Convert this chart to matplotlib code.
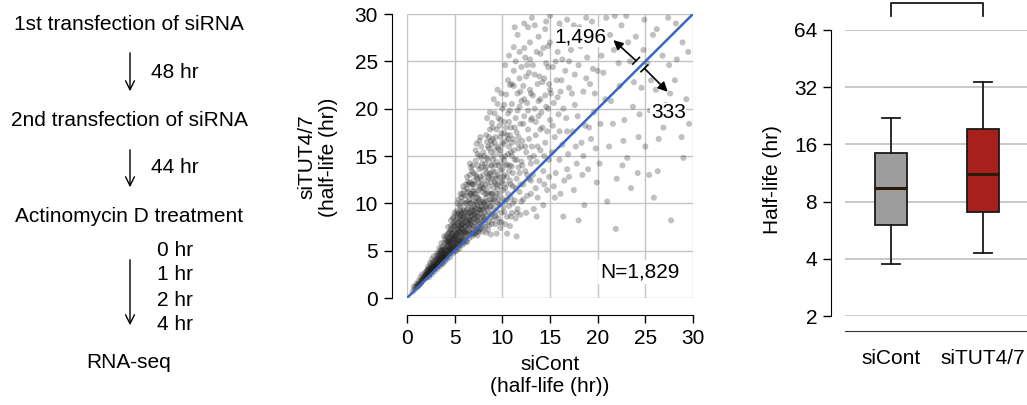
import matplotlib
matplotlib.use("Agg")
import matplotlib.pyplot as plt
import numpy as np

plt.rcParams['font.family'] = ['Liberation Sans', 'DejaVu Sans']

W, H = 1027, 405

# ---------------- data ----------------
# scatter: (siCont half-life, siTUT4/7 half-life)
half_life_pairs = [
 (0.6,0.7),(0.8,0.9),(0.9,1.2),(1.0,1.1),(1.1,1.4),(1.2,1.3),(1.3,1.6),(1.4,1.5),(1.5,1.9),(1.5,1.7),
 (1.6,1.8),(1.7,2.1),(1.7,1.9),(1.8,2.3),(1.8,2.0),(1.9,2.2),(1.9,2.6),(2.0,2.1),(2.0,2.4),(2.0,2.8),
 (1.2,1.8),(1.0,1.5),(0.7,1.2),(1.6,2.5),(1.4,2.2),
 (2.1,2.3),(2.1,2.7),(2.2,2.5),(2.2,3.0),(2.3,2.4),(2.3,2.8),(2.4,2.6),(2.4,3.2),(2.5,2.7),(2.5,3.0),
 (2.5,3.5),(2.6,2.8),(2.6,3.1),(2.7,2.9),(2.7,3.4),(2.7,3.8),(2.8,3.0),(2.8,3.3),(2.9,3.1),(2.9,3.6),
 (3.0,3.2),(3.0,3.5),(3.0,4.0),(2.2,3.3),(2.4,3.7),(2.6,4.1),(2.8,4.4),(2.3,2.2),(2.6,2.5),(2.9,2.8),
 (3.1,3.3),(3.1,3.8),(3.2,3.5),(3.2,4.2),(3.3,3.4),(3.3,3.9),(3.3,4.6),(3.4,3.6),(3.4,4.1),(3.5,3.7),
 (3.5,4.4),(3.5,5.0),(3.6,3.9),(3.6,4.3),(3.6,4.8),(3.7,4.0),(3.7,4.6),(3.7,5.4),(3.8,4.1),(3.8,4.5),
 (3.8,5.1),(3.9,4.2),(3.9,4.8),(3.9,5.8),(4.0,4.3),(4.0,4.7),(4.0,5.3),(4.0,6.2),(3.2,3.1),(3.5,3.4),
 (3.8,3.7),(3.4,5.3),(3.6,5.8),(3.9,6.5),(3.1,4.5),(3.7,3.6),(4.0,3.9),
 (4.1,4.4),(4.1,5.0),(4.1,5.9),(4.2,4.5),(4.2,5.2),(4.2,6.0),(4.3,4.6),(4.3,5.4),(4.3,6.8),(4.4,4.7),
 (4.4,5.6),(4.4,6.3),(4.5,4.8),(4.5,5.3),(4.5,5.9),(4.5,7.0),(4.6,4.9),(4.6,5.6),(4.6,6.5),(4.7,5.0),
 (4.7,5.8),(4.7,7.3),(4.8,5.1),(4.8,5.5),(4.8,6.2),(4.8,6.9),(4.9,5.2),(4.9,6.0),(4.9,7.6),(5.0,5.3),
 (5.0,5.8),(5.0,6.6),(5.0,8.0),(4.2,4.1),(4.5,4.3),(4.8,4.7),(5.0,4.9),(4.3,7.5),(4.6,8.2),(4.9,8.6),
 (4.4,5.0),(4.7,6.3),(4.1,6.6),
 (5.1,5.4),(5.1,6.1),(5.1,7.0),(5.2,5.5),(5.2,6.4),(5.2,7.8),(5.3,5.7),(5.3,6.7),(5.3,8.5),(5.4,5.9),
 (5.4,6.3),(5.4,7.2),(5.4,9.0),(5.5,5.6),(5.5,6.6),(5.5,7.6),(5.5,8.3),(5.6,6.0),(5.6,7.0),(5.6,8.0),
 (5.6,9.6),(5.7,5.9),(5.7,6.8),(5.7,7.7),(5.7,8.9),(5.8,6.2),(5.8,7.3),(5.8,8.4),(5.8,10.2),(5.9,6.5),
 (5.9,7.9),(5.9,9.3),(6.0,6.3),(6.0,7.1),(6.0,8.6),(6.0,10.8),(5.2,5.0),(5.5,5.2),(5.8,5.6),(6.0,5.8),
 (5.3,10.0),(5.6,11.0),(5.9,11.8),(5.4,6.9),(5.7,7.4),(6.0,9.2),
 (6.1,6.6),(6.1,7.5),(6.1,9.0),(6.2,6.9),(6.2,8.1),(6.2,10.0),(6.3,7.2),(6.3,8.7),(6.3,11.5),(6.4,6.7),
 (6.4,7.8),(6.4,9.5),(6.4,12.3),(6.5,7.0),(6.5,8.3),(6.5,10.4),(6.6,7.4),(6.6,9.0),(6.6,11.0),(6.6,13.0),
 (6.7,7.7),(6.7,8.6),(6.7,10.0),(6.8,6.8),(6.8,8.0),(6.8,9.4),(6.8,12.0),(6.9,7.3),(6.9,8.8),(6.9,10.7),
 (6.9,14.0),(7.0,7.6),(7.0,9.2),(7.0,11.3),(7.0,13.2),(6.2,6.0),(6.5,6.3),(6.8,6.5),(7.0,6.7),(6.3,5.9),
 (6.7,13.8),(6.5,12.0),
 (7.1,7.9),(7.1,9.6),(7.1,12.0),(7.2,7.2),(7.2,8.4),(7.2,10.2),(7.2,14.5),(7.3,7.6),(7.3,9.0),(7.3,11.0),
 (7.3,12.8),(7.4,8.2),(7.4,9.8),(7.4,15.2),(7.5,7.4),(7.5,8.7),(7.5,10.5),(7.5,12.2),(7.6,8.0),(7.6,9.3),
 (7.6,11.6),(7.6,13.6),(7.7,7.8),(7.7,8.9),(7.7,10.0),(7.8,8.5),(7.8,9.7),(7.8,12.5),(7.8,16.0),(7.9,8.1),
 (7.9,11.2),(7.9,14.2),(8.0,8.6),(8.0,10.1),(8.0,13.0),(7.2,6.8),(7.5,7.0),(7.8,7.3),(8.0,7.6),(7.4,6.6),
 (7.7,17.0),(7.3,16.3),
 (8.1,9.0),(8.1,11.5),(8.1,15.0),(8.2,8.2),(8.2,9.6),(8.2,12.0),(8.3,8.8),(8.3,10.6),(8.3,13.8),(8.4,9.4),
 (8.4,11.0),(8.4,16.5),(8.5,8.0),(8.5,10.0),(8.5,12.7),(8.5,14.6),(8.6,9.0),(8.6,11.8),(8.7,8.5),(8.7,10.4),
 (8.7,13.2),(8.7,17.8),(8.8,9.7),(8.8,12.2),(8.8,15.4),(8.9,8.9),(8.9,11.0),(8.9,14.0),(9.0,10.1),(9.0,12.6),
 (9.0,16.8),(8.2,7.5),(8.6,7.7),(9.0,8.2),(8.4,19.0),(8.9,18.5),(8.3,6.9),(8.8,6.7),
 (9.1,9.5),(9.1,11.6),(9.1,15.0),(9.2,8.7),(9.2,13.3),(9.2,19.5),(9.3,10.6),(9.3,12.0),(9.3,17.0),(9.4,9.2),
 (9.4,14.4),(9.5,10.0),(9.5,11.5),(9.5,16.0),(9.5,20.5),(9.6,8.4),(9.6,12.8),(9.6,14.0),(9.7,9.9),(9.7,11.0),
 (9.7,18.2),(9.8,13.5),(9.8,15.6),(9.9,9.0),(9.9,12.2),(9.9,17.4),(10.0,10.5),(10.0,14.8),(10.0,20.0),(9.3,7.8),
 (9.8,7.4),(9.4,6.8),(9.9,8.0),
 (10.1,11.4),(10.1,16.2),(10.2,9.1),(10.2,13.0),(10.2,18.6),(10.3,10.2),(10.3,15.0),(10.4,12.0),(10.4,21.5),(10.5,8.6),
 (10.5,14.1),(10.5,17.2),(10.6,11.0),(10.6,19.5),(10.7,9.7),(10.7,13.4),(10.7,16.0),(10.8,12.4),(10.8,22.5),(10.9,10.6),
 (10.9,15.4),(10.9,18.0),(11.0,9.0),(11.0,13.9),(11.0,20.5),(10.3,7.8),(10.8,7.6),(10.5,6.8),
 (11.1,11.8),(11.1,16.8),(11.2,24.0),(11.3,10.3),(11.3,14.6),(11.4,19.0),(11.5,12.6),(11.5,17.5),(11.6,9.4),(11.6,21.6),
 (11.7,13.8),(11.7,15.8),(11.8,11.2),(11.8,23.2),(11.9,18.4),(12.0,14.4),(12.0,10.2),(11.4,8.4),(11.9,8.8),(11.2,26.5),
 (11.6,27.8),(12.0,20.8),(11.5,6.5),
 (12.1,16.6),(12.2,12.0),(12.2,22.4),(12.3,19.2),(12.4,13.4),(12.4,25.4),(12.5,15.4),(12.6,10.8),(12.6,20.6),(12.7,17.8),
 (12.8,12.6),(12.8,23.8),(12.9,14.8),(13.0,18.8),(13.0,11.0),(12.5,9.0),(12.9,27.0),(12.3,29.0),(12.7,28.6),(13.0,21.6),
 (13.1,16.0),(13.2,13.0),(13.2,24.6),(13.4,20.0),(13.5,11.6),(13.5,17.2),(13.6,14.4),(13.7,22.6),(13.8,19.2),(13.9,12.4),
 (14.0,15.6),(14.0,25.8),(13.3,9.4),(13.8,27.6),(14.0,21.0),(13.6,8.6),
 (14.2,18.0),(14.3,13.4),(14.4,23.2),(14.5,16.4),(14.6,20.2),(14.7,11.4),(14.8,24.4),(14.9,14.6),(15.0,18.8),(15.0,22.0),
 (14.5,28.4),(14.3,9.8),(14.8,26.6),(14.9,12.8),
 (15.2,15.4),(15.3,24.4),(15.4,20.6),(15.5,17.0),(15.6,13.2),(15.7,23.0),(15.8,26.0),(15.9,19.4),(16.0,14.6),(16.1,21.8),
 (16.2,28.4),(16.3,16.2),(16.5,12.4),(16.6,24.0),(16.7,19.0),(16.8,29.4),(16.9,15.2),(17.0,22.2),(15.5,10.6),(16.4,8.6),
 (17.0,12.8),(15.9,27.2),(16.3,25.2),
 (17.2,26.2),(17.4,17.6),(17.6,20.4),(17.8,14.2),(18.0,24.6),(18.1,28.6),(18.3,16.4),(18.5,21.8),(18.7,18.2),(18.9,25.4),
 (19.0,13.6),(19.2,22.6),(19.4,29.2),(19.6,19.6),(19.8,15.8),(20.0,27.0),(17.5,11.4),(18.6,9.8),(19.9,12.2),(18.0,8.2),
 (19.5,24.2),
 (20.3,18.4),(20.6,23.8),(20.9,29.6),(21.2,16.0),(21.4,20.8),(21.7,26.2),(22.0,12.6),(22.3,22.4),(22.5,28.8),(22.8,18.8),
 (23.1,14.8),(23.4,25.0),(23.7,20.2),(24.0,27.6),(24.3,17.0),(24.6,22.2),(24.9,29.4),(21.0,10.2),(21.9,7.3),(23.5,11.6),
 (21.8,29.8),(24.2,13.2),
 (25.2,24.8),(25.5,19.8),(25.8,27.8),(26.1,22.0),(26.4,16.8),(26.8,25.6),(27.1,20.4),(27.4,29.6),(27.7,8.2),(28.1,23.0),
 (28.5,19.6),(28.9,27.0),(29.3,21.0),(29.6,18.4),(25.4,13.0),(26.3,13.4),(27.6,21.6),(28.2,29.0),(25.9,10.6),(29.0,14.8),
]
# further points read from the denser parts of the cloud
half_life_pairs_extra = [
 (1.1,1.2),(1.3,1.4),(1.5,1.6),(1.6,2.0),(1.8,2.1),(2.0,2.3),(2.1,2.5),(2.2,2.6),(2.3,2.6),(2.4,2.9),
 (2.5,2.9),(2.6,3.0),(2.7,3.1),(2.8,3.2),(2.9,3.4),(3.0,3.4),(3.1,3.6),(3.2,3.7),(3.3,3.7),(3.4,3.9),
 (3.5,4.0),(3.6,4.1),(3.7,4.3),(3.8,4.3),(3.9,4.5),(4.0,4.5),(2.5,3.2),(2.7,3.6),(2.9,3.9),(3.1,4.1),
 (3.3,4.3),(3.5,4.7),(3.7,5.0),(3.9,5.2),(1.9,2.4),(2.1,2.9),(2.3,3.1),(3.2,4.8),(3.4,4.6),(3.6,5.1),
 (4.1,4.8),(4.2,5.5),(4.3,5.0),(4.4,5.9),(4.5,5.1),(4.6,6.0),(4.7,5.4),(4.8,6.6),(4.9,5.6),(5.0,6.2),
 (4.2,6.4),(4.4,6.9),(4.6,7.2),(4.8,7.8),(5.0,7.2),(4.3,5.8),(4.5,6.4),(4.7,6.8),(4.9,6.4),(5.0,7.6),
 (5.1,5.8),(5.2,6.8),(5.3,6.1),(5.4,7.6),(5.5,6.1),(5.6,7.4),(5.7,6.4),(5.8,7.8),(5.9,7.0),(6.0,7.6),
 (5.1,8.2),(5.3,7.3),(5.5,8.8),(5.7,8.2),(5.9,8.6),(5.2,9.2),(5.4,8.0),(5.6,8.6),(5.8,9.0),(6.0,10.0),
 (5.5,9.8),(5.7,10.6),(5.1,6.6),(5.3,5.3),(5.6,5.7),(5.9,6.0),
 (6.1,7.0),(6.2,7.6),(6.3,8.2),(6.4,8.9),(6.5,7.6),(6.6,8.2),(6.7,9.2),(6.8,8.6),(6.9,9.6),(7.0,8.4),
 (6.1,8.4),(6.3,9.4),(6.5,9.0),(6.7,11.0),(6.9,12.0),(6.2,10.8),(6.4,10.2),(6.6,10.0),(6.8,10.8),(7.0,10.2),
 (6.3,12.8),(6.6,12.2),(6.9,11.4),(7.1,8.8),(7.2,9.4),(7.3,8.2),(7.4,10.6),(7.5,9.4),(7.6,10.4),(7.7,11.8),
 (7.8,9.2),(7.9,10.2),(8.0,9.4),(7.1,11.0),(7.3,10.0),(7.5,11.4),(7.7,12.8),(7.9,12.0),(7.2,13.0),(7.4,14.0),
 (7.6,15.0),(7.8,13.8),(8.0,11.6),(7.3,7.0),(7.6,7.2),(7.9,7.0),(6.6,6.8),(6.9,6.9),
 (8.1,10.0),(8.2,11.0),(8.3,9.6),(8.4,12.4),(8.5,11.2),(8.6,13.0),(8.7,9.6),(8.8,11.0),(8.9,12.8),(9.0,11.0),
 (8.2,13.6),(8.4,14.8),(8.6,15.8),(8.8,14.0),(9.0,14.6),(8.3,17.2),(8.5,16.0),(8.7,19.6),(8.9,16.2),(9.0,18.0),
 (9.1,10.4),(9.2,12.2),(9.3,14.0),(9.4,11.0),(9.5,13.0),(9.6,10.4),(9.7,15.2),(9.8,11.8),(9.9,14.2),(10.0,12.4),
 (9.2,16.4),(9.4,17.8),(9.6,19.0),(9.8,17.0),(10.0,16.4),(9.1,21.0),(9.5,22.0),(9.9,21.6),(9.3,8.6),(9.7,8.0),
 (8.5,7.2),(8.9,7.8),
 (10.1,12.8),(10.2,14.6),(10.3,11.6),(10.4,16.6),(10.5,12.8),(10.6,15.2),(10.7,18.6),(10.8,14.0),(10.9,12.0),(11.0,16.4),
 (10.2,20.4),(10.4,18.0),(10.6,23.0),(10.8,19.8),(11.0,22.6),(10.3,24.6),(10.7,25.6),(10.1,9.6),(10.5,10.4),(10.9,8.6),
 (11.1,13.2),(11.2,15.6),(11.3,18.0),(11.4,11.6),(11.5,14.6),(11.6,19.8),(11.7,17.0),(11.8,13.2),(11.9,21.8),(12.0,16.0),
 (11.2,22.4),(11.4,25.0),(11.6,16.4),(11.8,20.2),(12.0,24.4),(11.3,28.6),(11.8,26.0),(11.1,10.0),(11.5,9.0),(11.9,12.0),
 (12.1,14.0),(12.2,18.4),(12.3,21.0),(12.4,16.0),(12.5,23.4),(12.6,13.0),(12.7,19.8),(12.8,16.8),(12.9,22.0),(13.0,14.2),
 (12.3,26.4),(12.6,24.6),(12.9,25.2),(13.1,19.0),(13.2,21.4),(13.3,15.0),(13.4,23.6),(13.5,18.6),(13.6,26.0),(13.7,16.0),
 (13.8,20.8),(13.9,23.4),(14.0,17.8),(13.4,28.8),(14.1,19.6),(14.2,22.8),(14.3,26.4),(14.4,15.0),(14.5,21.4),(14.6,24.8),
 (14.7,17.6),(14.8,20.0),(14.9,22.6),(15.0,27.0),(12.2,10.4),(13.0,12.4),(13.7,10.6),(14.4,12.0),(14.6,29.2),(13.1,29.6),
 (15.1,21.6),(15.3,18.2),(15.6,25.0),(15.8,21.2),(16.0,17.6),(16.2,23.0),(16.4,20.0),(16.6,27.2),(16.8,17.6),(17.0,25.0),
 (17.3,21.6),(17.6,23.6),(17.9,19.2),(18.2,26.6),(18.5,15.0),(18.8,23.2),(19.1,18.0),(19.4,27.2),(19.7,21.6),(20.0,24.0),
 (15.4,11.8),(16.1,11.0),(16.8,13.6),(17.7,16.0),(18.4,13.0),(19.3,16.8),(15.0,29.8),(16.0,29.0),(17.5,28.8),(18.8,29.6),
 (20.4,25.6),(20.8,21.0),(21.3,27.8),(21.6,18.4),(22.2,24.8),(22.7,16.6),(23.2,27.0),(23.8,22.8),(24.4,19.4),(24.8,26.2),
 (25.6,23.0),(26.2,28.4),(26.9,18.0),(27.5,24.6),(28.3,25.2),(28.8,17.0),(29.5,26.0),(20.2,14.2),(22.6,14.0),(25.0,16.0),
 (20.6,28.2),(23.0,29.8),
]
# core of the cloud (x 4-11, upper half), where it is darkest
half_life_pairs_core = [
 (4.4,6.1),(4.6,7.6),(4.8,8.4),(5.0,9.0),(5.2,8.8),(5.4,10.4),(5.6,9.2),(5.8,11.0),(6.0,11.4),(6.2,12.0),
 (6.4,11.2),(6.6,14.2),(6.8,13.4),(7.0,12.4),(7.2,15.6),(7.4,12.6),(7.6,16.6),(7.8,14.8),(8.0,15.4),(8.2,14.2),
 (8.4,13.2),(8.6,17.0),(8.8,16.6),(9.0,13.4),(9.2,15.6),(9.4,12.6),(9.6,15.8),(9.8,18.8),(10.0,13.6),(10.2,17.4),
 (10.4,14.0),(10.6,16.8),(10.8,17.2),(11.0,15.0),(5.5,7.0),(6.1,8.0),(6.7,8.2),(7.1,9.0),(7.7,9.4),(8.3,10.2),
 (8.9,10.4),(9.5,12.0),(6.0,6.9),(6.6,7.9),(7.4,8.6),(8.1,8.4),(4.6,5.3),(3.9,4.7),(3.3,4.1),(2.7,3.3),
]
all_pairs = half_life_pairs + half_life_pairs_extra + half_life_pairs_core
si_cont = [p[0] for p in all_pairs]
si_tut = [p[1] for p in all_pairs]

n_up, n_down, n_total = "1,496", "333", "N=1,829"

# boxplot summary (hr)
box_labels = ["siCont", "siTUT4/7"]
box_whislo = [3.74, 4.27]
box_q1 = [6.02, 7.03]
box_med = [9.45, 11.2]
box_q3 = [14.5, 19.2]
box_whishi = [22.1, 34.1]
box_colors = ["#9d9d9d", "#a8201b"]

# flow steps
flow_steps = ["1st transfection of siRNA", "2nd transfection of siRNA",
              "Actinomycin D treatment", "RNA-seq"]
flow_intervals = ["48 hr", "44 hr"]
flow_times = ["0 hr", "1 hr", "2 hr", "4 hr"]

FS = 15

fig = plt.figure(figsize=(W / 100, H / 100), dpi=100)

def fx(px):
    return px / W

def fy(py):
    return 1 - py / H

# ---------------- flow chart ----------------
for txt, py in zip(flow_steps, [25, 120, 217, 363]):
    fig.text(fx(129), fy(py), txt, ha="center", va="center", fontsize=FS)
for txt, py in zip(flow_intervals, [72, 168]):
    fig.text(fx(151), fy(py), txt, ha="left", va="center", fontsize=FS)
for txt, py in zip(flow_times, [250, 275, 300, 325]):
    fig.text(fx(157), fy(py), txt, ha="left", va="center", fontsize=FS)
for y0, y1 in [(50, 94), (147, 190), (257, 328)]:
    fig.add_artist(matplotlib.patches.FancyArrowPatch(
        (fx(130), fy(y0)), (fx(130), fy(y1)), transform=fig.transFigure,
        arrowstyle="->", mutation_scale=16, lw=1.0, color="black"))

# ---------------- scatter ----------------
ax = fig.add_axes([fx(407), fy(298), fx(693) - fx(407), fy(14) - fy(298)])
ax.set_xlim(0, 30)
ax.set_ylim(0, 30)
ax.grid(True, color="#c4c4c4", lw=1.0)
ax.set_axisbelow(True)
ax.scatter(si_cont, si_tut, s=19, color="#1e1e1e", alpha=0.28, edgecolors="none", zorder=2)
ax.plot([0, 30], [0, 30], color="#3a66c4", lw=1.8, zorder=3)
ticks = [0, 5, 10, 15, 20, 25, 30]
ax.set_xticks(ticks)
ax.set_yticks(ticks)
ax.tick_params(labelsize=FS, length=6, width=1.0, pad=4, color="black")
for s in ["top", "right"]:
    ax.spines[s].set_visible(False)
ax.spines["left"].set_position(("outward", 11))
ax.spines["bottom"].set_position(("outward", 12))
ax.spines["left"].set_bounds(0, 30)
ax.spines["bottom"].set_bounds(0, 30)
fig.text(fx(318), fy(157), "siTUT4/7\n(half-life (hr))", rotation=90, ha="center",
         va="center", fontsize=FS, linespacing=1.2)
fig.text(fx(550), fy(376), "siCont\n(half-life (hr))", ha="center", va="center",
         fontsize=FS, linespacing=1.2)

# annotations
ax.annotate("", xy=(21.65, 27.24), xytext=(24.03, 25.06),
            arrowprops=dict(arrowstyle="-|>", color="black", lw=1.2, mutation_scale=14,
                            shrinkA=0, shrinkB=0), zorder=5)
ax.annotate("", xy=(27.35, 21.78), xytext=(24.9, 24.26),
            arrowprops=dict(arrowstyle="-|>", color="black", lw=1.2, mutation_scale=14,
                            shrinkA=0, shrinkB=0), zorder=5)
for bx, by in [(24.03, 25.06), (24.9, 24.26)]:
    d = 0.35
    ax.plot([bx - d, bx + d], [by - d, by + d], color="black", lw=1.2, zorder=5)
ax.text(18.15, 27.6, n_up, ha="center", va="center", fontsize=FS, zorder=6,
        bbox=dict(facecolor="white", edgecolor="none", pad=0.5))
ax.text(27.4, 19.57, n_down, ha="center", va="center", fontsize=FS, zorder=6,
        bbox=dict(facecolor="white", edgecolor="none", pad=0.5))
ax.text(24.4, 2.75, n_total, ha="center", va="center", fontsize=FS, zorder=6,
        bbox=dict(facecolor="white", edgecolor="none", pad=1.5))

# ---------------- boxplot ----------------
bx_ax = fig.add_axes([fx(845), fy(316), fx(1027) - fx(845), fy(30) - fy(316)])
bx_ax.set_yscale("log", base=2)
bx_ax.set_ylim(2, 64)
bx_ax.set_xlim(0.5, 2.478)
yt = [2, 4, 8, 16, 32, 64]
bx_ax.set_yticks(yt)
bx_ax.set_yticklabels([str(v) for v in yt])
bx_ax.yaxis.set_minor_locator(matplotlib.ticker.NullLocator())
bx_ax.grid(True, axis="y", color="#c4c4c4", lw=1.3)
bx_ax.set_axisbelow(True)
stats = []
for i in range(2):
    stats.append(dict(label=box_labels[i], whislo=box_whislo[i], q1=box_q1[i], med=box_med[i],
                      q3=box_q3[i], whishi=box_whishi[i], fliers=[]))
bp = bx_ax.bxp(stats, positions=[1, 2], widths=0.35, patch_artist=True, showfliers=False,
               boxprops=dict(edgecolor="#1a1a1a", lw=1.3),
               medianprops=dict(color="#2a1a08", lw=2.2),
               whiskerprops=dict(color="#1a1a1a", lw=1.3),
               capprops=dict(color="#1a1a1a", lw=1.3), capwidths=0.19)
for patch, c in zip(bp["boxes"], box_colors):
    patch.set_facecolor(c)
bx_ax.tick_params(axis="y", labelsize=FS, length=6, width=1.0, pad=4)
bx_ax.tick_params(axis="x", labelsize=FS, length=0, pad=13)
for s in ["top", "right"]:
    bx_ax.spines[s].set_visible(False)
bx_ax.spines["left"].set_position(("outward", 10))
bx_ax.spines["left"].set_bounds(2, 64)
bx_ax.spines["bottom"].set_position(("outward", 11))
bx_ax.spines["bottom"].set_color("#333333")
fig.text(fx(773), fy(180), "Half-life (hr)", rotation=90, ha="center", va="center", fontsize=FS)
# significance bracket
bx_ax.plot([1, 1, 2, 2], [76, 88.5, 88.5, 76], color="#1a1a1a", lw=1.3, clip_on=False)

fig.savefig("out.png", dpi=100)
